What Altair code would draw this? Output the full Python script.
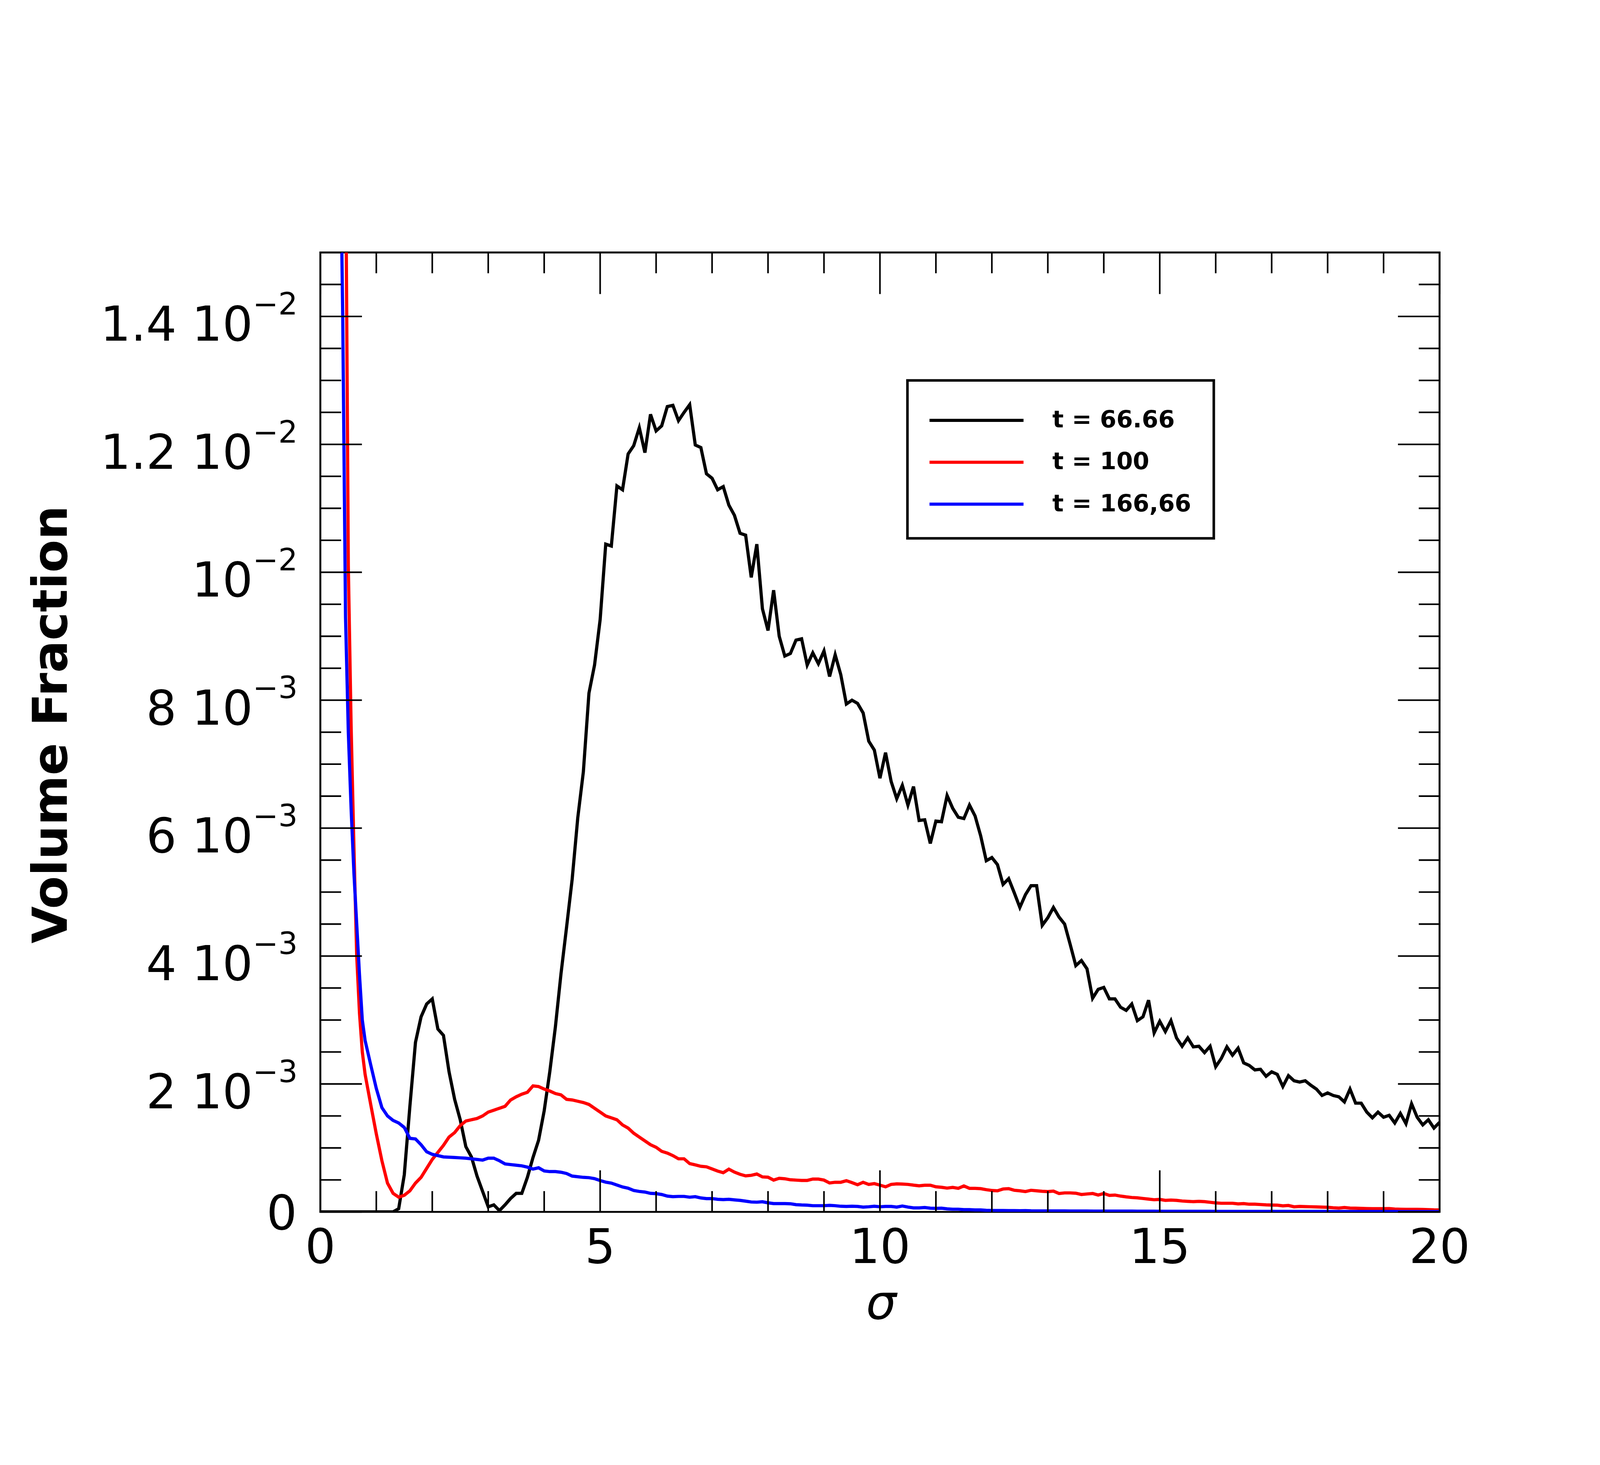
import altair as alt
import pandas as pd

# ---------------- data (values in units of 1e-3) ----------------
grid = [0.0, 0.1, 0.2, 0.3, 0.35, 0.4, 0.45, 0.5, 0.55, 0.6, 0.65, 0.7, 0.75, 0.8] + \
       [round(0.9 + 0.1 * i, 1) for i in range(192)]

black = [0.0] * 14 + [0.0, 0.0, 0.0, 0.0, 0.0] + [
    0.05, 0.58, 1.65, 2.65, 3.05, 3.25,
    3.33, 2.86, 2.76, 2.19, 1.76, 1.44, 1.02, 0.86, 0.56, 0.32,
    0.08, 0.11, 0.02, 0.11, 0.21, 0.29, 0.29, 0.54, 0.85, 1.12,
    1.58, 2.19, 2.89, 3.72, 4.45, 5.20, 6.16, 6.88, 8.11, 8.55,
    9.26, 10.44, 10.41, 11.35, 11.29, 11.85, 11.98, 12.26, 11.87, 12.47,
    12.21, 12.29, 12.59, 12.61, 12.37, 12.50, 12.62, 11.99, 11.95, 11.54,
    11.47, 11.29, 11.34, 11.05, 10.89, 10.61, 10.58, 9.92, 10.44, 9.43,
    9.09, 9.72, 9.00, 8.69, 8.73, 8.94, 8.96, 8.55, 8.74, 8.57,
    8.77, 8.37, 8.71, 8.40, 7.94, 8.00, 7.95, 7.80, 7.36, 7.22,
    6.78, 7.18, 6.73, 6.46, 6.67, 6.36, 6.65, 6.12, 6.13, 5.76,
    6.11, 6.10, 6.51, 6.31, 6.17, 6.15, 6.36, 6.19, 5.88, 5.49,
    5.54, 5.43, 5.12, 5.21, 4.99, 4.76, 4.96, 5.10, 5.10, 4.48,
    4.60, 4.76, 4.61, 4.50, 4.18, 3.85, 3.93, 3.80, 3.34, 3.48,
    3.51, 3.33, 3.33, 3.20, 3.15, 3.25, 2.99, 3.05, 3.31, 2.80,
    2.98, 2.82, 2.99, 2.72, 2.59, 2.72, 2.58, 2.59, 2.49, 2.59,
    2.27, 2.40, 2.58, 2.45, 2.56, 2.33, 2.29, 2.22, 2.23, 2.12,
    2.19, 2.15, 1.96, 2.13, 2.05, 2.03, 2.05, 1.98, 1.92, 1.82,
    1.86, 1.82, 1.80, 1.72, 1.92, 1.70, 1.70, 1.56, 1.47, 1.56,
    1.48, 1.51, 1.39, 1.54, 1.38, 1.69, 1.48, 1.36, 1.44, 1.31,
    1.40]

# red and blue leave the top of the frame: each starts with one point just above it
red_start = [0.46, 15.6]
red = [10.1, 7.6, 5.7, 4.0, 3.1, 2.5, 2.15,
       1.68,
       1.22, 0.80, 0.45, 0.29, 0.23, 0.26, 0.33, 0.45, 0.54, 0.68,
       0.82, 0.93, 1.04, 1.17, 1.24, 1.35, 1.42, 1.44, 1.46, 1.50,
       1.56, 1.59, 1.62, 1.65, 1.75, 1.80, 1.84, 1.87, 1.97, 1.96,
       1.92, 1.89, 1.85, 1.83, 1.76, 1.75, 1.73, 1.71, 1.68, 1.62,
       1.56, 1.50, 1.47, 1.44, 1.36, 1.31, 1.23, 1.17, 1.11, 1.05,
       1.01, 0.947, 0.92, 0.88, 0.83, 0.83, 0.755, 0.735, 0.713, 0.705,
       0.672, 0.638, 0.613, 0.668, 0.622, 0.588, 0.563, 0.572, 0.592, 0.547,
       0.542, 0.497, 0.525, 0.518, 0.502, 0.497, 0.492, 0.492, 0.513, 0.513,
       0.497, 0.452, 0.463, 0.463, 0.488, 0.458, 0.425, 0.463, 0.43, 0.442,
       0.418, 0.392, 0.43, 0.438, 0.435, 0.43, 0.418, 0.408, 0.417, 0.417,
       0.392, 0.385, 0.372, 0.383, 0.368, 0.405, 0.368, 0.368, 0.363, 0.347,
       0.335, 0.33, 0.358, 0.363, 0.338, 0.33, 0.318, 0.338, 0.33, 0.322,
       0.318, 0.325, 0.288, 0.297, 0.297, 0.292, 0.272, 0.28, 0.288, 0.263,
       0.288, 0.258, 0.263, 0.247, 0.235, 0.225, 0.22, 0.21, 0.20, 0.19,
       0.195, 0.18, 0.185, 0.18, 0.17, 0.165, 0.16, 0.165, 0.16, 0.15,
       0.14, 0.135, 0.135, 0.135, 0.125, 0.13, 0.12, 0.12, 0.115, 0.11,
       0.107, 0.105, 0.095, 0.10, 0.08, 0.085, 0.082, 0.08, 0.078, 0.075,
       0.072, 0.065, 0.06, 0.068, 0.06, 0.058, 0.055, 0.052, 0.05, 0.05,
       0.05, 0.052, 0.045, 0.042, 0.04, 0.04, 0.04, 0.038, 0.036, 0.032,
       0.03]

blue_start = [0.38, 15.3]
blue = [14.0, 9.3, 7.5, 6.3, 5.3, 4.5, 3.7, 3.0, 2.68,
        2.3,
        1.93, 1.63, 1.50, 1.43, 1.39, 1.32, 1.15, 1.14, 1.05, 0.94,
        0.90, 0.88, 0.86, 0.855, 0.85, 0.845, 0.84, 0.83, 0.82, 0.81,
        0.84, 0.84, 0.80, 0.75, 0.74, 0.73, 0.72, 0.70, 0.67, 0.69,
        0.64, 0.63, 0.63, 0.62, 0.60, 0.56, 0.55, 0.54, 0.535, 0.52,
        0.49, 0.465, 0.45, 0.42, 0.39, 0.37, 0.335, 0.32, 0.31, 0.29,
        0.285, 0.272, 0.247, 0.238, 0.242, 0.242, 0.23, 0.238, 0.218, 0.208,
        0.208, 0.197, 0.192, 0.197, 0.188, 0.18, 0.168, 0.155, 0.152, 0.158,
        0.142, 0.13, 0.13, 0.13, 0.127, 0.113, 0.108, 0.105, 0.097, 0.097,
        0.097, 0.102, 0.097, 0.088, 0.085, 0.088, 0.085, 0.075, 0.08, 0.088,
        0.08, 0.085, 0.085, 0.075, 0.092, 0.075, 0.063, 0.063, 0.068, 0.058,
        0.055, 0.058, 0.047, 0.042, 0.042, 0.035, 0.035, 0.03, 0.03, 0.025,
        0.022, 0.022, 0.022, 0.02, 0.02, 0.018, 0.02, 0.017, 0.016, 0.016,
        0.015, 0.015, 0.015, 0.015, 0.014, 0.014, 0.014, 0.014, 0.013, 0.013,
        0.013, 0.013, 0.012, 0.012, 0.012, 0.012, 0.011, 0.011, 0.011, 0.011,
        0.010, 0.010, 0.010, 0.010, 0.010, 0.009, 0.009, 0.009, 0.009, 0.009,
        0.008, 0.008, 0.008, 0.008, 0.008, 0.008, 0.008, 0.008, 0.008, 0.008,
        0.007, 0.007, 0.007, 0.007, 0.007, 0.007, 0.007, 0.007, 0.007, 0.007,
        0.006, 0.006, 0.006, 0.006, 0.006, 0.006, 0.006, 0.006, 0.006, 0.006,
        0.006, 0.006, 0.006, 0.005, 0.005, 0.005, 0.005, 0.005, 0.005, 0.005,
        0.005]

series_names = ["t = 66.66", "t = 100", "t = 166,66"]
series_colors = ["#000000", "#ff0000", "#0000ff"]

x_major = [0, 5, 10, 15, 20]
x_labels = ["0", "5", "10", "15", "20"]
x_minor = [1, 2, 3, 4, 6, 7, 8, 9, 11, 12, 13, 14, 16, 17, 18, 19]
y_major = [0.0, 0.002, 0.004, 0.006, 0.008, 0.010, 0.012, 0.014]
y_minor = [0.0005, 0.001, 0.0015, 0.0025, 0.003, 0.0035, 0.0045, 0.005, 0.0055,
           0.0065, 0.007, 0.0075, 0.0085, 0.009, 0.0095, 0.0105, 0.011, 0.0115,
           0.0125, 0.013, 0.0135, 0.0145, 0.015]
y_label_vals = [0.002, 0.004, 0.006, 0.008, 0.010, 0.012, 0.014]
y_label_mant = ["2 10", "4 10", "6 10", "8 10", "10", "1.2 10", "1.4 10"]
y_label_exp = ["\u22123", "\u22123", "\u22123", "\u22123", "\u22122", "\u22122", "\u22122"]
x_title = "\u03c3"
y_title = "Volume Fraction"

# ---------------- build tables ----------------
rows = []
for name, start, vals in zip(series_names, [None, red_start, blue_start], [black, red, blue]):
    xs = grid[len(grid) - len(vals):]
    if start is not None:
        rows.append({"sigma": start[0], "value": start[1] * 1e-3, "series": name})
    for s, v in zip(xs, vals):
        rows.append({"sigma": s, "value": v * 1e-3, "series": name})
df = pd.DataFrame(rows)

W, H = 3500, 3000
FONT = "DejaVu Sans"
xs_ = alt.Scale(domain=[0, 20], nice=False, zero=False)
ys_ = alt.Scale(domain=[0, 0.015], nice=False, zero=False)
cs_ = alt.Scale(domain=series_names, range=series_colors)

legend = alt.Legend(title=None, orient="none", legendX=1836, legendY=400,
                    symbolType="M-2.94,0H2.94", symbolSize=10000, symbolStrokeWidth=10,
                    symbolOffset=91, labelOffset=182, labelFont=FONT, labelFontSize=74,
                    labelFontWeight="bold", labelColor="black", labelLimit=2000,
                    padding=70, rowPadding=39, strokeColor="black", fillColor="white")

layers = []
for name in series_names:
    layers.append(
        alt.Chart(df[df["series"] == name]).mark_line(strokeWidth=10, clip=True).encode(
            x=alt.X("sigma:Q", scale=xs_, axis=None),
            y=alt.Y("value:Q", scale=ys_, axis=None),
            color=alt.Color("series:N", scale=cs_, legend=legend),
        )
    )

def xticks(vals, length, top):
    d = pd.DataFrame({"v": vals})
    if top:
        yy, yy2 = alt.value(0), alt.value(length)
    else:
        yy, yy2 = alt.value(H), alt.value(H - length)
    return alt.Chart(d).mark_rule(color="black", strokeWidth=5).encode(
        x=alt.X("v:Q", scale=xs_, axis=None), y=yy, y2=yy2)

def yticks(vals, length, right):
    d = pd.DataFrame({"v": vals})
    if right:
        xx, xx2 = alt.value(W), alt.value(W - length)
    else:
        xx, xx2 = alt.value(0), alt.value(length)
    return alt.Chart(d).mark_rule(color="black", strokeWidth=5).encode(
        y=alt.Y("v:Q", scale=ys_, axis=None), x=xx, x2=xx2)

ticks = [xticks(x_major, 130, False), xticks(x_minor, 65, False),
         xticks(x_major, 130, True), xticks(x_minor, 65, True),
         yticks(y_major, 130, False), yticks(y_minor, 65, False),
         yticks(y_major, 130, True), yticks(y_minor, 65, True)]

# tick labels (positioned through the scales)
lab_df = pd.DataFrame({"v": y_label_vals, "m": y_label_mant, "e": y_label_exp})
mant = alt.Chart(lab_df).mark_text(align="right", baseline="alphabetic", dy=76,
                                   font=FONT, fontSize=150, color="black").encode(
    x=alt.value(-211), y=alt.Y("v:Q", scale=ys_, axis=None), text="m:N")
expo = alt.Chart(lab_df).mark_text(align="left", baseline="alphabetic", dy=-6,
                                   font=FONT, fontSize=95, color="black").encode(
    x=alt.value(-211), y=alt.Y("v:Q", scale=ys_, axis=None), text="e:N")
zero = alt.Chart(pd.DataFrame({"v": [0.0], "t": ["0"]})).mark_text(
    align="right", baseline="alphabetic", dy=55, font=FONT, fontSize=150,
    color="black").encode(x=alt.value(-73), y=alt.Y("v:Q", scale=ys_, axis=None), text="t:N")
xlab = alt.Chart(pd.DataFrame({"v": x_major, "t": x_labels})).mark_text(
    align="center", baseline="alphabetic", dy=160, font=FONT, fontSize=150,
    color="black").encode(x=alt.X("v:Q", scale=xs_, axis=None), y=alt.value(H), text="t:N")

# axis titles
xtit = alt.Chart(pd.DataFrame({"t": [x_title]})).mark_text(
    align="center", baseline="alphabetic", font=FONT, fontSize=150, fontStyle="italic",
    color="black").encode(x=alt.value(W / 2 + 4), y=alt.value(H + 335), text="t:N")
ytit = alt.Chart(pd.DataFrame({"t": [y_title]})).mark_text(
    align="center", baseline="alphabetic", angle=270, font=FONT, fontSize=150,
    fontWeight="bold", color="black").encode(x=alt.value(-793), y=alt.value(1476), text="t:N")

chart = alt.layer(*layers, *ticks, mant, expo, zero, xlab, xtit, ytit).properties(
    width=W, height=H,
    padding={"left": 992, "top": 366, "right": 492, "bottom": 368},
    autosize=alt.AutoSizeParams(type="none"),
    background="white",
).configure_view(stroke="black", strokeWidth=6).configure_legend(strokeWidth=8)

chart.save("out.html", embed_options={"renderer": "svg", "actions": False})
